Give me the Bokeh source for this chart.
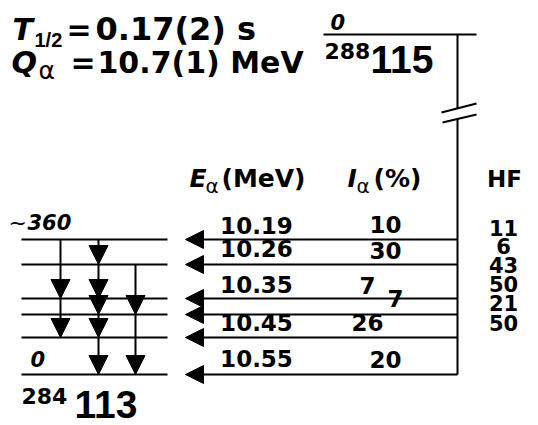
from bokeh.plotting import figure
from bokeh.models import Range1d, Arrow, NormalHead, ColumnDataSource
from bokeh.core.properties import value
from bokeh.embed import file_html
from bokeh.resources import INLINE

# ---- decay data -------------------------------------------------------
parent_mass = "288"
parent_z = "115"
daughter_mass = "284"
daughter_z = "113"
half_life = "0.17(2) s"
q_value = "10.7(1) MeV"
parent_level = "0"
daughter_top_level = "360"
daughter_ground = "0"
e_alpha = ["10.19", "10.26", "10.35", "10.45", "10.55"]
i_alpha = ["10", "30", "7", "7", "26", "20"]
hindrance = ["11", "6", "43", "50", "21", "50"]

# ---- layout (screen units, y grows downwards) --------------------------
W, H = 538, 425
level_y = [239, 264, 298, 314, 337, 374]       # daughter levels, top to bottom
level_x = (21, 167)
parent_y, parent_x = 34, (323, 476)
trunk_x = 457
alpha_tip_x = 185
gap = (108, 118)                               # broken part of the trunk
gamma_x = [60, 98, 135]
# cascade as (column, from level, to level)
cascade = [(0, 0, 2), (0, 2, 4),
           (1, 0, 1), (1, 1, 2), (1, 2, 3), (1, 3, 4), (1, 4, 5),
           (2, 1, 3), (2, 3, 5)]

BOLD = value("DejaVu Sans")
NARROW = value("Liberation Sans")
GREEK = value("DejaVu Sans")
BASELINE_SHIFT = 0.42      # moves glyph baselines onto the wanted rows

p = figure(width=W, height=H, x_range=Range1d(0, W), y_range=Range1d(H, 0),
           output_backend="svg", toolbar_location=None, min_border=0,
           x_axis_location=None, y_axis_location=None)
p.grid.visible = False
p.outline_line_color = None
p.background_fill_color = "white"
p.border_fill_color = "white"

LW = 2

# daughter levels
p.segment(x0=[level_x[0]] * len(level_y), x1=[level_x[1]] * len(level_y),
          y0=level_y, y1=level_y, line_color="black", line_width=LW)

# parent level and the broken trunk
p.segment(x0=[parent_x[0]], x1=[parent_x[1]], y0=[parent_y], y1=[parent_y],
          line_color="black", line_width=LW)
p.segment(x0=[trunk_x, trunk_x], x1=[trunk_x, trunk_x],
          y0=[parent_y, gap[1]], y1=[gap[0], level_y[-1]],
          line_color="black", line_width=LW)
p.segment(x0=[441, 442], y0=[112, 122], x1=[476, 476], y1=[103, 114],
          line_color="black", line_width=LW)

# alpha branches to every daughter level
alpha_src = ColumnDataSource(dict(
    xs=[trunk_x] * len(level_y), ys=level_y,
    xe=[alpha_tip_x] * len(level_y), ye=level_y))
p.add_layout(Arrow(source=alpha_src, x_start="xs", y_start="ys",
                   x_end="xe", y_end="ye", line_width=LW, line_color="black",
                   end=NormalHead(size=18, fill_color="black",
                                  line_color="black", line_width=1)))

# gamma cascade
g_src = ColumnDataSource(dict(
    xs=[gamma_x[c] for c, a, b in cascade],
    ys=[level_y[a] for c, a, b in cascade],
    xe=[gamma_x[c] for c, a, b in cascade],
    ye=[level_y[b] for c, a, b in cascade]))
p.add_layout(Arrow(source=g_src, x_start="xs", y_start="ys",
                   x_end="xe", y_end="ye", line_width=LW, line_color="black",
                   end=NormalHead(size=19, fill_color="black",
                                  line_color="black", line_width=1)))

# white breaks where labels sit on the branch lines
p.quad(left=[220, 347, 380], right=[295, 385, 403],
       top=[310, 310, 295], bottom=[318, 318, 303],
       fill_color="white", line_color=None)


def txt(x, y, s, size, font=BOLD, style="bold", align="left"):
    ys = y if isinstance(y, list) else [y]
    p.text(x=x if isinstance(x, list) else [x],
           y=[v - BASELINE_SHIFT * size for v in ys],
           text=s if isinstance(s, list) else [s],
           text_font=font, text_font_style=style,
           text_font_size=f"{size}px", text_align=align,
           text_baseline="alphabetic", text_color="black")


# half-life and Q-value
txt(12, 42, "T", 30, style="bold italic")
txt(34, 48, "1/2", 20, font=NARROW)
txt(66, 42, "=", 30)
txt(95, 42, half_life, 32)
txt(11, 75, "Q", 30, style="bold italic")
txt(38, 80, "α", 25, font=GREEK, style="normal")
txt(70, 75, "=", 30)
txt(97, 75, q_value, 30)

# parent nucleus
txt(330, 30, parent_level, 21, style="bold italic")
txt(324, 60, parent_mass, 22)
txt(370, 75, parent_z, 39, font=NARROW)

# daughter nucleus
txt(8, 231, "~", 22, style="normal")
txt(27, 230, daughter_top_level, 21, style="bold italic")
txt(30, 367, daughter_ground, 21, style="bold italic")
txt(21, 405, daughter_mass, 22)
txt(74, 420, daughter_z, 39, font=NARROW)

# column headers
txt(189, 188, "E", 25, style="bold italic")
txt(205, 194, "α", 20, font=GREEK, style="normal")
txt(221, 188, "(MeV)", 25)
txt(347, 188, "I", 25, style="bold italic")
txt(356, 194, "α", 20, font=GREEK, style="normal")
txt(373, 188, "(%)", 25)
txt(504, 188, "HF", 23, align="center")

# alpha energies
txt([256] * len(e_alpha), [235, 258, 294, 332, 368], e_alpha, 23, align="center")
# intensities
txt([385, 385, 367, 395, 367, 385], [234, 260, 295, 308, 332, 369],
    i_alpha, 23, align="center")
# hindrance factors
txt([503] * len(hindrance), [236, 254, 273, 292, 311, 331], hindrance, 21,
    align="center")

open("out.html", "w").write(file_html(p, INLINE))
